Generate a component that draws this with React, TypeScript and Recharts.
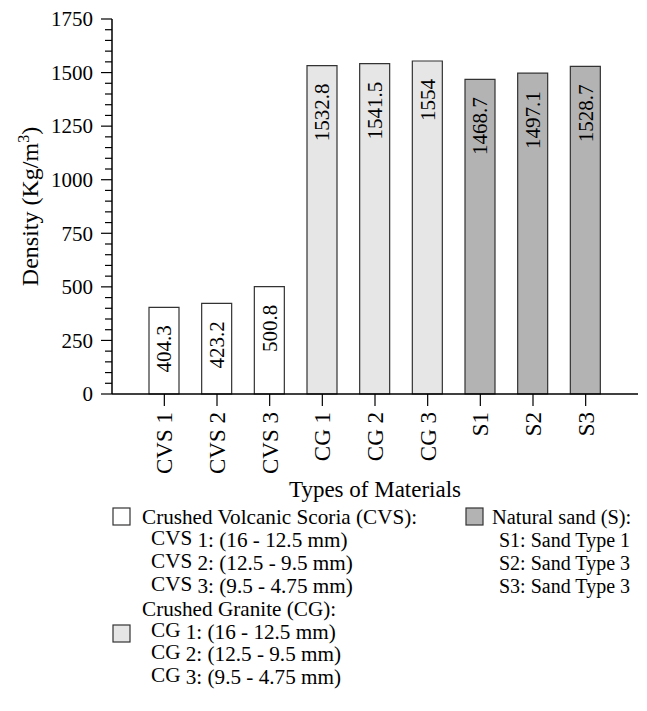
import React from "react";
import { BarChart, Bar, XAxis, YAxis, Cell, LabelList } from "recharts";

const categories = ["CVS 1", "CVS 2", "CVS 3", "CG 1", "CG 2", "CG 3", "S1", "S2", "S3"];
const densities = [404.3, 423.2, 500.8, 1532.8, 1541.5, 1554, 1468.7, 1497.1, 1528.7];
const densityLabels = ["404.3", "423.2", "500.8", "1532.8", "1541.5", "1554", "1468.7", "1497.1", "1528.7"];
const groups = ["CVS", "CVS", "CVS", "CG", "CG", "CG", "S", "S", "S"];
const majorTicks = [0, 250, 500, 750, 1000, 1250, 1500, 1750];

const cvsLines = [
  ["CVS", " 1:  (16 - 12.5 mm)"],
  ["CVS", " 2:  (12.5 - 9.5 mm)"],
  ["CVS", " 3:  (9.5 - 4.75 mm)"],
];
const cgLines = [
  ["CG", " 1:  (16 - 12.5 mm)"],
  ["CG", " 2:  (12.5 - 9.5 mm)"],
  ["CG", " 3:  (9.5 - 4.75 mm)"],
];
const sandLines = ["S1: Sand Type 1", "S2: Sand Type 3", "S3: Sand Type 3"];

const groupFill: Record<string, string> = { CVS: "#ffffff", CG: "#e6e6e6", S: "#b3b3b3" };

const FONT = "'Liberation Serif', Tinos, 'DejaVu Serif', serif";
const txt = { fontFamily: FONT, fill: "#000" };

const data = categories.map((name, i) => ({
  name,
  density: densities[i],
  label: densityLabels[i],
  group: groups[i],
}));

// minor ticks every 50, labels only on the 250 steps
const allTicks = Array.from({ length: 1750 / 50 + 1 }, (_, i) => i * 50);

function YTick(props: any) {
  const { x, y, payload } = props;
  const major = majorTicks.includes(payload.value);
  const len = major ? 11 : 7;
  return (
    <g>
      <line x1={x - len} x2={x} y1={y} y2={y} stroke="#000" strokeWidth={1.2} />
      {major && (
        <text x={x - 19} y={y} dy="0.35em" textAnchor="end" fontSize={21} style={txt}>
          {payload.value}
        </text>
      )}
    </g>
  );
}

function XTick(props: any) {
  const { x, y, payload } = props;
  return (
    <text
      x={x}
      y={y}
      dy="0.35em"
      transform={`rotate(-90, ${x}, ${y})`}
      textAnchor="end"
      fontSize={23}
      style={txt}
    >
      {payload.value}
    </text>
  );
}

function ValueLabel(props: any) {
  const { x, y, width, value } = props;
  const cx = x + width / 2;
  const ty = y + 18;
  return (
    <text
      x={cx}
      y={ty}
      dy="0.35em"
      transform={`rotate(-90, ${cx}, ${ty})`}
      textAnchor="end"
      fontSize={21}
      style={txt}
    >
      {value}
    </text>
  );
}

// legend text is a touch wider than tall in the reference
function LText({ x, y, sx = 1.06, children }: { x: number; y: number; sx?: number; children: React.ReactNode }) {
  return <text transform={`translate(${x},${y}) scale(${sx},1)`}>{children}</text>;
}

function Legend() {
  const row = (k: number) => 524 + k * 22.9;
  const box = (x: number, y: number, fill: string) => (
    <rect x={x} y={y} width={17} height={17} fill={fill} stroke="#333" strokeWidth={1.2} />
  );
  return (
    <svg
      width={647}
      height={711}
      style={{ position: "absolute", left: 0, top: 0, pointerEvents: "none", fontFamily: FONT, fontSize: 20 }}
    >
      {box(113, 508, groupFill.CVS)}
      <LText x={142} y={row(0)}>Crushed Volcanic Scoria (CVS):</LText>
      {cvsLines.map((l, i) => (
        <LText key={l[1]} x={151} y={row(i + 1)}>
          <tspan dy={-2}>{l[0]}</tspan>
          <tspan dy={2}>{l[1]}</tspan>
        </LText>
      ))}
      {box(113, 625, groupFill.CG)}
      <LText x={142} y={row(4)}>Crushed Granite (CG):</LText>
      {cgLines.map((l, i) => (
        <LText key={l[1]} x={151} y={row(i + 5)}>
          <tspan dy={-2}>{l[0]}</tspan>
          <tspan dy={2}>{l[1]}</tspan>
        </LText>
      ))}
      {box(466, 508, groupFill.S)}
      <LText x={492} y={row(0)} sx={1.02}>Natural sand (S):</LText>
      {sandLines.map((l, i) => (
        <LText key={l} x={499} y={row(i + 1)} sx={1}>
          {l}
        </LText>
      ))}
    </svg>
  );
}

export default function App() {
  return (
    <div style={{ position: "relative", width: 647, height: 711, margin: -8, background: "#fff" }}>
      <BarChart
        width={647}
        height={711}
        data={data}
        margin={{ top: 19, right: 9, bottom: 207, left: 0 }}
      >
        <XAxis
          dataKey="name"
          height={110}
          padding={{ left: 26, right: 26 }}
          interval={0}
          tickSize={12}
          tickMargin={6}
          tickLine={{ stroke: "#000", strokeWidth: 1.2 }}
          axisLine={{ stroke: "#000", strokeWidth: 1.5 }}
          tick={<XTick />}
          label={{
            content: (p: any) => {
              const vb = p.viewBox;
              return (
                <text x={vb.x + vb.width / 2} y={vb.y + 103} textAnchor="middle" fontSize={23} style={txt}>
                  Types of Materials
                </text>
              );
            },
          }}
        />
        <XAxis
          xAxisId="top"
          dataKey="name"
          orientation="top"
          height={0}
          tick={false}
          tickLine={false}
          axisLine={{ stroke: "#000", strokeWidth: 1.5 }}
        />
        <YAxis
          domain={[0, 1750]}
          ticks={allTicks}
          interval={0}
          width={112}
          tickSize={0}
          tickMargin={0}
          tickLine={false}
          axisLine={{ stroke: "#000", strokeWidth: 1.5 }}
          tick={<YTick />}
          label={{
            content: (p: any) => {
              const vb = p.viewBox;
              const cx = vb.x + 30;
              const cy = vb.y + vb.height / 2;
              return (
                <text
                  x={cx}
                  y={cy}
                  dy="0.35em"
                  transform={`rotate(-90, ${cx}, ${cy})`}
                  textAnchor="middle"
                  fontSize={24}
                  style={txt}
                >
                  Density (Kg/m
                  <tspan dy={-9} fontSize={16}>3</tspan>
                  <tspan dy={9}>)</tspan>
                </text>
              );
            },
          }}
        />
        <YAxis
          yAxisId="right"
          orientation="right"
          domain={[0, 1750]}
          width={0}
          tick={false}
          tickLine={false}
          axisLine={{ stroke: "#000", strokeWidth: 1.5 }}
        />
        <Bar dataKey="density" barSize={30} stroke="#333" strokeWidth={1.2} isAnimationActive={false}>
          {data.map((d) => (
            <Cell key={d.name} fill={groupFill[d.group]} />
          ))}
          <LabelList dataKey="label" content={<ValueLabel />} />
        </Bar>
      </BarChart>
      <Legend />
    </div>
  );
}
